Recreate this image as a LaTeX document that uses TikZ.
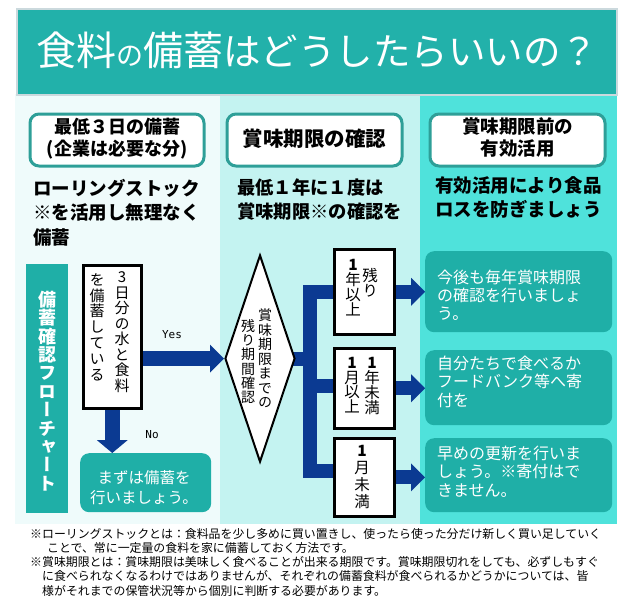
\documentclass[tikz,border=0pt]{standalone}
\usepackage{fontspec}
\setmainfont{Noto Sans CJK JP}
\newfontfamily\vjp[RawFeature=+vert]{Noto Sans CJK JP}
\newfontfamily\monof{DejaVu Sans Mono}
\usetikzlibrary{arrows.meta,shapes.geometric}
\pgfdeclarelayer{bg}
\pgfdeclarelayer{edges}
\pgfsetlayers{bg,edges,main}

\definecolor{titleteal}{HTML}{22B1AA}
\definecolor{titleborder}{HTML}{CBD9DD}
\definecolor{leftbg}{HTML}{EFFBFB}
\definecolor{midbg}{HTML}{C4F3F1}
\definecolor{rightbg}{HTML}{4FE2DB}
\definecolor{hdrteal}{HTML}{2E9F98}
\definecolor{boxteal}{HTML}{1FAFA7}
\definecolor{flowblue}{HTML}{0B3A92}

\ExplSyntaxOn
\NewDocumentCommand\vcol{mm}{
  \vtop{\baselineskip=#1\lineskiplimit=-100pt\lineskip=0pt
    \tl_map_inline:nn{#2}{\hbox_to_wd:nn{1em}{\hss##1\hss}}}
}
\ExplSyntaxOff

\tikzset{
  panel/.style={inner sep=0, anchor=north west},
  hdr/.style={draw=hdrteal, line width=3pt, fill=white, rounded corners=9pt, minimum width=174, minimum height=52, inner sep=0},
  wbox/.style={draw=black, line width=2.5pt, fill=white, inner sep=0, anchor=north west},
  tbox/.style={fill=boxteal, rounded corners=9pt, inner sep=0, anchor=north west},
  txt/.style={inner sep=0},
  trunk/.style={draw=flowblue, line width=14pt},
  flow/.style={draw=flowblue, line width=14pt, -{Triangle[width=28pt,length=14pt,line width=0pt 0 0]}},
  flowv/.style={draw=flowblue, line width=15pt, -{Triangle[width=31pt,length=13pt,line width=0pt 0 0]}},
}

\begin{document}
\begin{tikzpicture}[x=1pt,y=-1pt]
\useasboundingbox (0,0) rectangle (628,597);

% panels
\begin{pgfonlayer}{bg}
\fill[white] (0,0) rectangle (628,597);
\node[panel, fill=leftbg, minimum width=205, minimum height=430] (pl) at (15,94) {};
\node[panel, fill=midbg, minimum width=200, minimum height=430] (pm) at (220,94) {};
\node[panel, fill=rightbg, minimum width=197, minimum height=430] (pr) at (420,94) {};
\end{pgfonlayer}

% title
\node[draw=titleborder, line width=2pt, fill=titleteal, minimum width=600, minimum height=86, inner sep=0, anchor=north west] (title) at (16,8) {};
\node[txt, anchor=base, text=white] (tt) at (317,65) {\fontsize{40}{40}\selectfont 食料{\fontsize{27}{27}\selectfont の}備蓄{\fontsize{37.5}{40}\selectfont はどうしたらいいの？}};

% headers
\node[hdr] (h1) at (117,140) {\fontsize{18}{22}\selectfont\bfseries\begin{tabular}{@{}c@{}}最低３日の備蓄\\(企業は必要な分)\end{tabular}};
\node[hdr, minimum width=175] (h2) at (314.5,140) {\raisebox{4pt}{\fontsize{20.5}{22}\selectfont\bfseries 賞味期限の確認}};
\node[hdr, minimum width=175] (h3) at (517.5,140) {\fontsize{18.5}{22.5}\selectfont\bfseries\begin{tabular}{@{}c@{}}賞味期限前の\\有効活用\end{tabular}};

% sub texts
\node[txt, anchor=base west] (s1) at (33,195) {\fontsize{18.5}{24.5}\selectfont\bfseries\begin{tabular}[t]{@{}l@{}}ローリングストック\\※を活用し無理なく\\備蓄\end{tabular}};
\node[txt, anchor=base west] (s2) at (237,194) {\fontsize{18.3}{24}\selectfont\bfseries\begin{tabular}[t]{@{}l@{}}最低１年に１度は\\賞味期限※の確認を\end{tabular}};
\node[txt, anchor=base] (s3) at (518.5,192) {\fontsize{18.5}{24.5}\selectfont\bfseries\begin{tabular}[t]{@{}c@{}}有効活用により食品\\ロスを防ぎましょう\end{tabular}};

% flowchart label bar
\node[panel, fill=boxteal, minimum width=42, minimum height=249] (bar) at (26,264) {};
\node[txt, text=white] (bart) at (47,391) {\vjp\fontsize{18}{18}\selectfont\bfseries\vcol{18.4pt}{備蓄確認フローチャート}};

% question box
\node[wbox, minimum width=58, minimum height=143] (q) at (82,264) {};
\node[txt] (qr) at (122,332) {\vjp\fontsize{15}{15}\selectfont\vcol{15.5pt}{3日分の水と食料}};
\node[txt] (ql) at (97,327) {\vjp\fontsize{15}{15}\selectfont\vcol{15.8pt}{を備蓄している}};

% no box
\node[tbox, minimum width=131, minimum height=59] (nobox) at (80,453) {};
\node[txt, anchor=base, text=white] (not) at (144,483) {\fontsize{15.5}{20}\selectfont\begin{tabular}[t]{@{}c@{}}まずは備蓄を\\行いましょう。\end{tabular}};

% diamond
\node[diamond, draw=black, line width=2pt, fill=white, minimum width=70, minimum height=207, inner sep=0] (dia) at (260,358.5) {};
\node[txt] (dr) at (265,358.5) {\vjp\fontsize{14}{14}\selectfont\vcol{14.5pt}{賞味期限までの}};
\node[txt] (dl) at (248,361.5) {\vjp\fontsize{14}{14}\selectfont\vcol{14.2pt}{残り期間確認}};

% period boxes
\node[wbox, minimum width=60, minimum height=85] (b1) at (333,248) {};
\node[wbox, minimum width=60, minimum height=80] (b2) at (333,347) {};
\node[wbox, minimum width=60, minimum height=78] (b3) at (333,437) {};
\node[txt] (b1l) at (353,287.5) {\vjp\fontsize{15.5}{15.5}\selectfont\vcol{15pt}{{\bfseries 1}年以上}};
\node[txt] (b1r) at (370,282.5) {\vjp\fontsize{15.5}{15.5}\selectfont\vcol{15pt}{残り}};
\node[txt] (b2l) at (352,385) {\vjp\fontsize{15.5}{15.5}\selectfont\vcol{14.7pt}{{\bfseries 1}月以上}};
\node[txt] (b2r) at (372,385.5) {\vjp\fontsize{15.5}{15.5}\selectfont\vcol{15pt}{{\bfseries 1}年未満}};
\node[txt] (b3c) at (362,476.5) {\vjp\fontsize{15.5}{15.5}\selectfont\vcol{17pt}{{\bfseries 1}月未満}};

% result boxes
\node[tbox, minimum width=187, minimum height=81] (ra) at (425,251) {};
\node[tbox, minimum width=187, minimum height=75] (rb) at (425,350) {};
\node[tbox, minimum width=187, minimum height=74] (rc) at (425,438) {};
\node[txt, anchor=base west, text=white] (rat) at (437,283) {\fontsize{16}{18}\selectfont\begin{tabular}[t]{@{}l@{}}今後も毎年賞味期限\\の確認を行いましょ\\う。\end{tabular}};
\node[txt, anchor=base west, text=white] (rbt) at (437,369) {\fontsize{16}{18}\selectfont\begin{tabular}[t]{@{}l@{}}自分たちで食べるか\\フードバンク等へ寄\\付を\end{tabular}};
\node[txt, anchor=base west, text=white] (rct) at (437,459) {\fontsize{16}{18}\selectfont\begin{tabular}[t]{@{}l@{}}早めの更新を行いま\\しょう。※寄付はで\\きません。\end{tabular}};

% labels
\node[txt] (yes) at (172,335) {\monof\fontsize{11}{11}\selectfont Yes};
\node[txt] (no) at (152,435) {\monof\fontsize{11}{11}\selectfont No};

% connectors
\coordinate (j) at (310,358.5);
\coordinate (t1) at (310,292);
\coordinate (t2) at (310,386);
\coordinate (t3) at (310,471);
\begin{pgfonlayer}{edges}
\draw[flow, line width=15pt] (q.east |- dia.west) -- (dia.west);
\draw[flowv] (q.south) -- (q.south |- nobox.north);
\draw[trunk] (dia.center) -- (j);
\draw[trunk] (b1.center |- t1) -- (t1) -- (t3) -- (b3.center |- t3);
\draw[trunk] (t2) -- (b2.center |- t2);
\draw[flow] (b1.east) -- (b1.east -| ra.west);
\draw[flow] (b2.east) -- (b2.east -| rb.west);
\draw[flow] (b3.east) -- (b3.east -| rc.west);
\end{pgfonlayer}

% footnotes
\node[txt, anchor=base west] (fn1) at (30,538.5) {\fontsize{11.9}{14}\selectfont\begin{tabular}[t]{@{}l@{}}※ローリングストックとは：食料品を少し多めに買い置きし、使ったら使った分だけ新しく買い足していく\\\hspace*{17pt}ことで、常に一定量の食料を家に備蓄しておく方法です。\end{tabular}};
\node[txt, anchor=base west] (fn2) at (30,566.5) {\fontsize{11.9}{14}\selectfont\begin{tabular}[t]{@{}l@{}}※賞味期限とは：賞味期限は美味しく食べることが出来る期限です。賞味期限切れをしても、必ずしもすぐ\\\hspace*{12pt}に食べられなくなるわけではありませんが、それぞれの備蓄食料が食べられるかどうかについては、皆\\\hspace*{12pt}様がそれまでの保管状況等から個別に判断する必要があります。\end{tabular}};
\end{tikzpicture}
\end{document}
